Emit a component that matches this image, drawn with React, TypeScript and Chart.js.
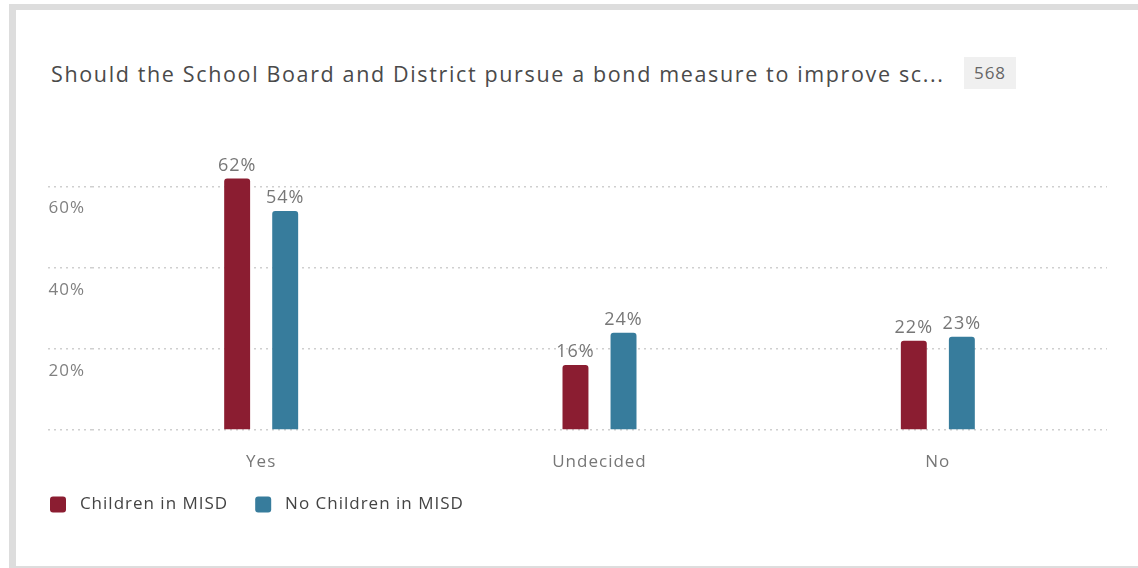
import React, { useEffect, useRef } from "react";
import { Chart, registerables } from "chart.js";

Chart.register(...registerables);

const categories = ["Yes", "Undecided", "No"];
const childrenInMISD = [62, 16, 22];
const noChildrenInMISD = [54, 24, 23];
const seriesNames = ["Children in MISD", "No Children in MISD"];
const yTicks = [0, 20, 40, 60];
const titleText = "Should the School Board and District pursue a bond measure to improve sc...";
const responseCount = "568";

const FONT = "'Open Sans', 'Noto Sans', sans-serif";
const SPACING = "1px";

const letterSpacing = {
  id: "letterSpacing",
  beforeUpdate(chart: any) {
    chart.ctx.letterSpacing = SPACING;
  },
  beforeDraw(chart: any) {
    chart.ctx.letterSpacing = SPACING;
  },
};

const valueLabels = {
  id: "valueLabels",
  afterDatasetsDraw(chart: any) {
    const ctx = chart.ctx;
    ctx.save();
    ctx.font = `18px ${FONT}`;
    ctx.fillStyle = "#777777";
    ctx.textAlign = "center";
    ctx.textBaseline = "bottom";
    chart.data.datasets.forEach((ds: any, di: number) => {
      const meta = chart.getDatasetMeta(di);
      meta.data.forEach((el: any, i: number) => {
        ctx.fillText(`${ds.data[i]}%`, el.x, el.y - 4);
      });
    });
    ctx.restore();
  },
};

export default function App() {
  const ref = useRef<HTMLCanvasElement>(null);

  useEffect(() => {
    if (!ref.current) return;
    const chart = new Chart(ref.current, {
      type: "bar",
      data: {
        labels: categories,
        datasets: [
          {
            label: seriesNames[0],
            data: childrenInMISD,
            backgroundColor: "#8B1D31",
            borderRadius: 3,
            barPercentage: 0.54,
            categoryPercentage: 0.284,
          },
          {
            label: seriesNames[1],
            data: noChildrenInMISD,
            backgroundColor: "#377C9C",
            borderRadius: 3,
            barPercentage: 0.54,
            categoryPercentage: 0.284,
          },
        ],
      },
      options: {
        animation: false,
        responsive: false,
        maintainAspectRatio: false,
        layout: { padding: { left: 0, right: 31, top: 46, bottom: 7 } },
        plugins: {
          tooltip: { enabled: false },
          title: { display: false },
          legend: {
            position: "bottom",
            align: "start",
            labels: {
              boxWidth: 16,
              boxHeight: 16,
              padding: 27,
              useBorderRadius: true,
              borderRadius: 3,
              color: "#444444",
              font: { family: FONT, size: 17 },
              generateLabels: (chart: any) =>
                Chart.defaults.plugins.legend.labels
                  .generateLabels(chart)
                  .map((item: any) => ({ ...item, text: " " + item.text })),
            },
          },
        },
        scales: {
          x: {
            grid: { display: false, drawTicks: false },
            border: { display: false },
            afterFit: (scale: any) => {
              scale.height = 39;
            },
            ticks: {
              color: "#777777",
              font: { family: FONT, size: 17 },
              padding: 22,
            },
          },
          y: {
            min: 0,
            max: 70,
            afterBuildTicks: (scale: any) => {
              scale.ticks = yTicks.map((v) => ({ value: v }));
            },
            afterFit: (scale: any) => {
              scale.width = 69;
            },
            border: { display: false, dash: [2, 4] },
            grid: {
              color: "#cfcfcf",
              tickColor: "#cfcfcf",
              lineWidth: 1.5,
              tickWidth: 1.5,
              tickLength: 44,
              tickBorderDash: [2, 4],
            },
            ticks: {
              color: "#808080",
              font: { family: FONT, size: 17 },
              crossAlign: "near",
              padding: -37,
              labelOffset: 22,
              callback: (v: any) => (v === 0 ? "" : `${v}%`),
            },
          },
        },
      },
      plugins: [letterSpacing, valueLabels],
    });
    return () => chart.destroy();
  }, []);

  return (
    <div
      style={{
        position: "absolute",
        left: 9,
        top: 4,
        width: 1129,
        height: 564,
        borderTop: "6px solid #dddddd",
        borderLeft: "7px solid #dddddd",
        borderBottom: "2px solid #dddddd",
        boxSizing: "border-box",
        background: "#ffffff",
        fontFamily: FONT,
      }}
    >
      <div
        style={{
          position: "absolute",
          left: 35,
          top: 50,
          fontSize: 21.5,
          letterSpacing: "1.64px",
          lineHeight: "28px",
          color: "#4a4a4a",
          whiteSpace: "nowrap",
        }}
      >
        {titleText}
      </div>
      <div
        style={{
          position: "absolute",
          left: 948,
          top: 47,
          width: 52,
          height: 32,
          lineHeight: "32px",
          textAlign: "center",
          background: "#f0f0f0",
          color: "#666666",
          fontSize: 17,
          letterSpacing: "1px",
        }}
      >
        {responseCount}
      </div>
      <canvas
        ref={ref}
        width={1115}
        height={430}
        style={{ position: "absolute", left: 7, top: 90, width: 1115, height: 430 }}
      />
    </div>
  );
}
